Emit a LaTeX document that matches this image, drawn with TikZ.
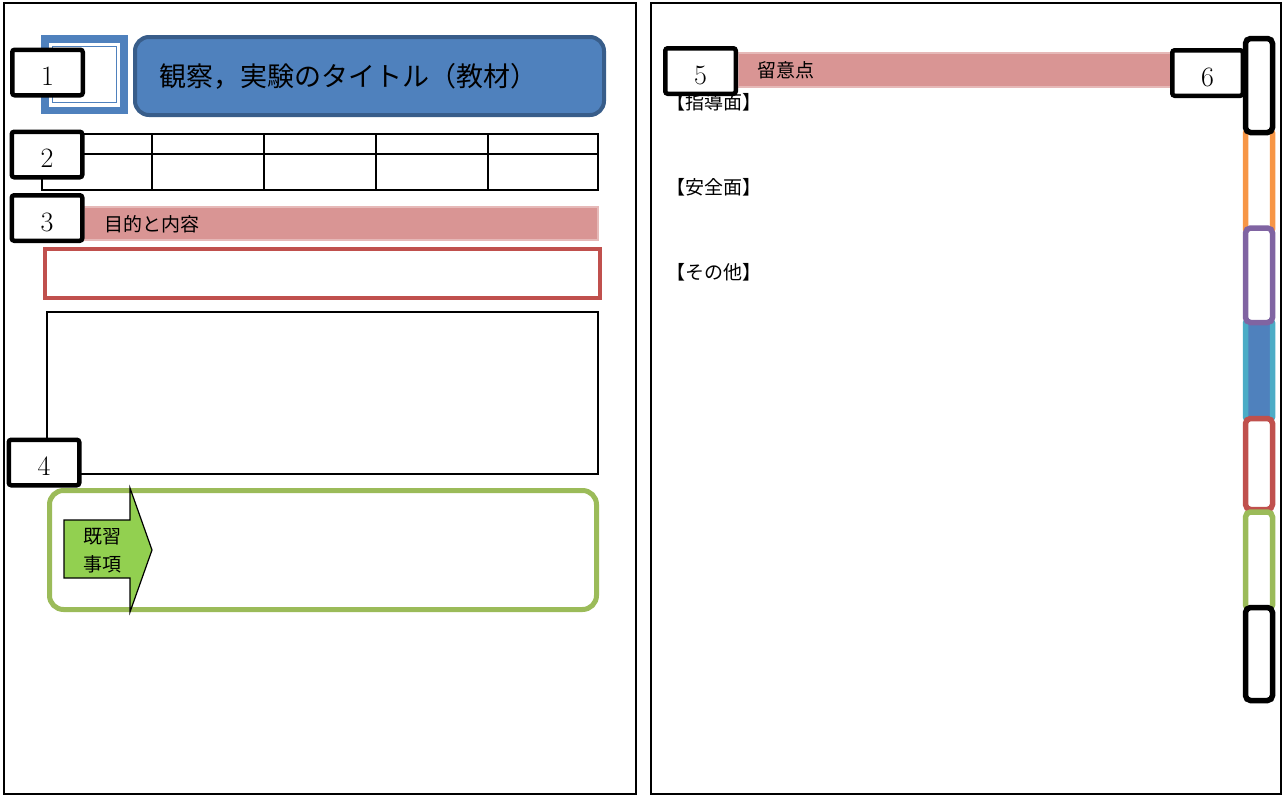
\documentclass[tikz,border=0pt]{standalone}
\usepackage{fontspec}
\newfontfamily\jp{Noto Sans CJK JP}
\definecolor{iconblue}{HTML}{4F81BD}
\definecolor{titleedge}{HTML}{385D8A}
\definecolor{pinkbar}{HTML}{D99594}
\definecolor{pinkedge}{HTML}{E6B9B8}
\definecolor{redc}{HTML}{C0504D}
\definecolor{greenc}{HTML}{9BBB59}
\definecolor{arrowgreen}{HTML}{92D050}
\definecolor{orangec}{HTML}{F79646}
\definecolor{purplec}{HTML}{8064A2}
\definecolor{cyanc}{HTML}{4BACC6}
\tikzset{
  numbox/.style={draw=black, line width=4.5pt, fill=white, rounded corners=2.5pt,
    minimum width=70.5pt, minimum height=45.5pt, inner sep=0pt,
    label={[font=\fontsize{28}{28}\selectfont, yshift=-4pt]center:#1}},
  frameline/.style={draw=black, line width=1.5pt},
  jptext/.style={font=\jp\fontsize{#1}{#1}\selectfont, inner sep=0pt, anchor=west},
  tab/.style={line width=5.5pt, rounded corners=5pt}
}
\begin{document}
\begin{tikzpicture}[x=1pt, y=-1pt]
\useasboundingbox (0,0) rectangle (1287,798);
% page frames
\draw[frameline] (4,3) rectangle (636,794);
\draw[frameline] (651,3) rectangle (1281,794);

% ---------- left page ----------
% blue icon
\fill[iconblue] (41,35) rectangle (128,114);
\fill[white] (49,43) rectangle (120,106.5);
\draw[iconblue, line width=1.5pt] (52.5,46.5) rectangle (116.5,102.5);
% title
\node (title) [draw=titleedge, fill=iconblue, line width=4pt, rounded corners=14pt,
  minimum width=469pt, minimum height=78pt, inner sep=0pt] at (369.5,76) {};
\node (titletext) [jptext=27] at (159,76) {観察，実験のタイトル（教材）};
% table
\draw[line width=1.5pt] (42,134) rectangle (598,190);
\draw[line width=1.5pt] (42,154) -- (598,154);
\foreach \cx in {152,264,376,488} \draw[line width=1.5pt] (\cx,134) -- (\cx,190);
% purpose bar
\draw[fill=pinkbar, draw=pinkedge, line width=1.5pt] (84,207) rectangle (598,240);
\node (purpose) [jptext=19] at (104,224) {目的と内容};
% red box
\draw[redc, line width=4pt] (45,249) rectangle (600,298);
% plain box
\draw[line width=1.5pt] (47,312) rectangle (598,474);
% green box
\draw[greenc, line width=5pt, rounded corners=14pt] (49.5,490.5) rectangle (596.5,609.5);
% arrow
\draw[fill=arrowgreen, line width=1.2pt, line join=miter]
  (64,520) -- (130,520) -- (130,488) -- (152,550) -- (130,612) -- (130,578) -- (64,578) -- cycle;
\node (kishu1) [font=\jp\fontsize{19}{19}\selectfont, inner sep=0pt] at (102.5,537) {既習};
\node (kishu2) [font=\jp\fontsize{19}{19}\selectfont, inner sep=0pt] at (102.5,564) {事項};
% number boxes
\node (n1) [numbox=1] at (47.5,72.5) {};
\node (n2) [numbox=2] at (47,154.5) {};
\node (n3) [numbox=3] at (47,218) {};
\node (n4) [numbox=4] at (44,462.5) {};

% ---------- right page ----------
\draw[fill=pinkbar, draw=pinkedge, line width=1.5pt] (738,53) rectangle (1175,87);
\node (ryui) [jptext=19] at (757,70) {留意点};
\node (shido) [jptext=19] at (666,102) {【指導面】};
\node (anzen) [jptext=19] at (666,187) {【安全面】};
\node (sonota) [jptext=19] at (666,272) {【その他】};
\node (n5) [numbox=5] at (700.5,71) {};
\node (n6) [numbox=6] at (1207.5,73) {};
% tabs
\draw[tab, orangec, fill=white] (1245.5,128) rectangle (1272.5,234);
\draw[tab, cyanc, fill=iconblue] (1245.5,318) rectangle (1272.5,422);
\draw[tab, purplec, fill=white] (1245.5,228) rectangle (1272.5,322.5);
\draw[tab, redc, fill=white] (1245.5,418.5) rectangle (1272.5,509.5);
\draw[tab, greenc, fill=white] (1245.5,512) rectangle (1272.5,610);
\draw[tab, black, fill=white] (1245.5,607.5) rectangle (1272.5,700.5);
\draw[tab, black, fill=white] (1245.5,38.5) rectangle (1272.5,132.5);
\end{tikzpicture}
\end{document}
